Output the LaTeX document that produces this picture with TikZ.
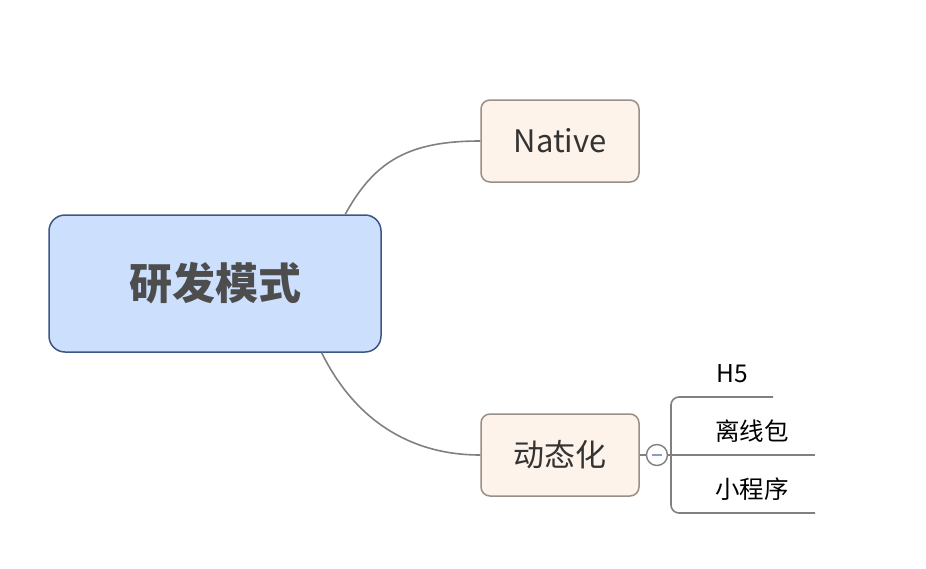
\documentclass[tikz,border=0pt]{standalone}
\usepackage{fontspec}
\setmainfont{Noto Sans CJK SC}
\definecolor{rootBlue}{HTML}{CCDFFD}
\definecolor{rootEdge}{HTML}{3F5685}
\definecolor{topicFill}{HTML}{FDF3EA}
\definecolor{topicEdge}{HTML}{9A8F86}
\definecolor{lineGray}{HTML}{808080}
\definecolor{textGray}{HTML}{4D4D4D}
\definecolor{minusBlue}{HTML}{8C9BC4}
\usepackage{tikz}
\usetikzlibrary{positioning}

\begin{document}
\begin{tikzpicture}[x=1pt, y=-1pt,
  root/.style={rectangle, rounded corners=16pt, draw=rootEdge, line width=1.5pt,
               fill=rootBlue, minimum width=332pt, minimum height=137pt,
               font=\fontsize{43}{50}\selectfont\bfseries, text=textGray},
  topic/.style={rectangle, rounded corners=9pt, draw=topicEdge, line width=1.5pt,
                fill=topicFill, minimum width=158pt, minimum height=82pt,
                font=\fontsize{31}{36}\selectfont, text=black!80},
  leaf/.style={font=\fontsize{24.5}{28}\selectfont, text=black, inner sep=0pt},
  branch/.style={draw=lineGray, line width=1.6pt},
  fold/.style={circle, draw=lineGray, line width=1.4pt, fill=white,
               minimum size=21pt, inner sep=0pt},
]
  \useasboundingbox (0,0) rectangle (926,568);

  \node[root] (root) at (215,283.5) {研发模式};
  \node[topic] (native) at (560,141) {Native};
  \node[topic] (dyn) at (560,455) {动态化};

  \draw[branch] (root.28) .. controls (375,160) and (410,141) .. (native.west);
  \draw[branch] (root.-33) .. controls (355,420) and (410,455) .. (dyn.west);

  % collapse button and the three leaves
  \node[fold, right=6pt of dyn] (fold) {};
  \draw[minusBlue, line width=1.4pt] ([xshift=-5pt]fold.center) -- ([xshift=5pt]fold.center);
  \draw[branch] (dyn.east) -- (fold.west);

  \coordinate (h5end) at (773,397);
  \coordinate (offend) at (815,455);
  \coordinate (miniend) at (815,513);

  \draw[branch] (fold.east) -- (offend);
  \draw[branch, rounded corners=8pt] (h5end) -- (671,397) -- (671,513) -- (miniend);

  \node[leaf] (h5) at (732,374) {H5};
  \node[leaf] (offline) at (752,431) {离线包};
  \node[leaf] (mini) at (752,489) {小程序};
\end{tikzpicture}
\end{document}
